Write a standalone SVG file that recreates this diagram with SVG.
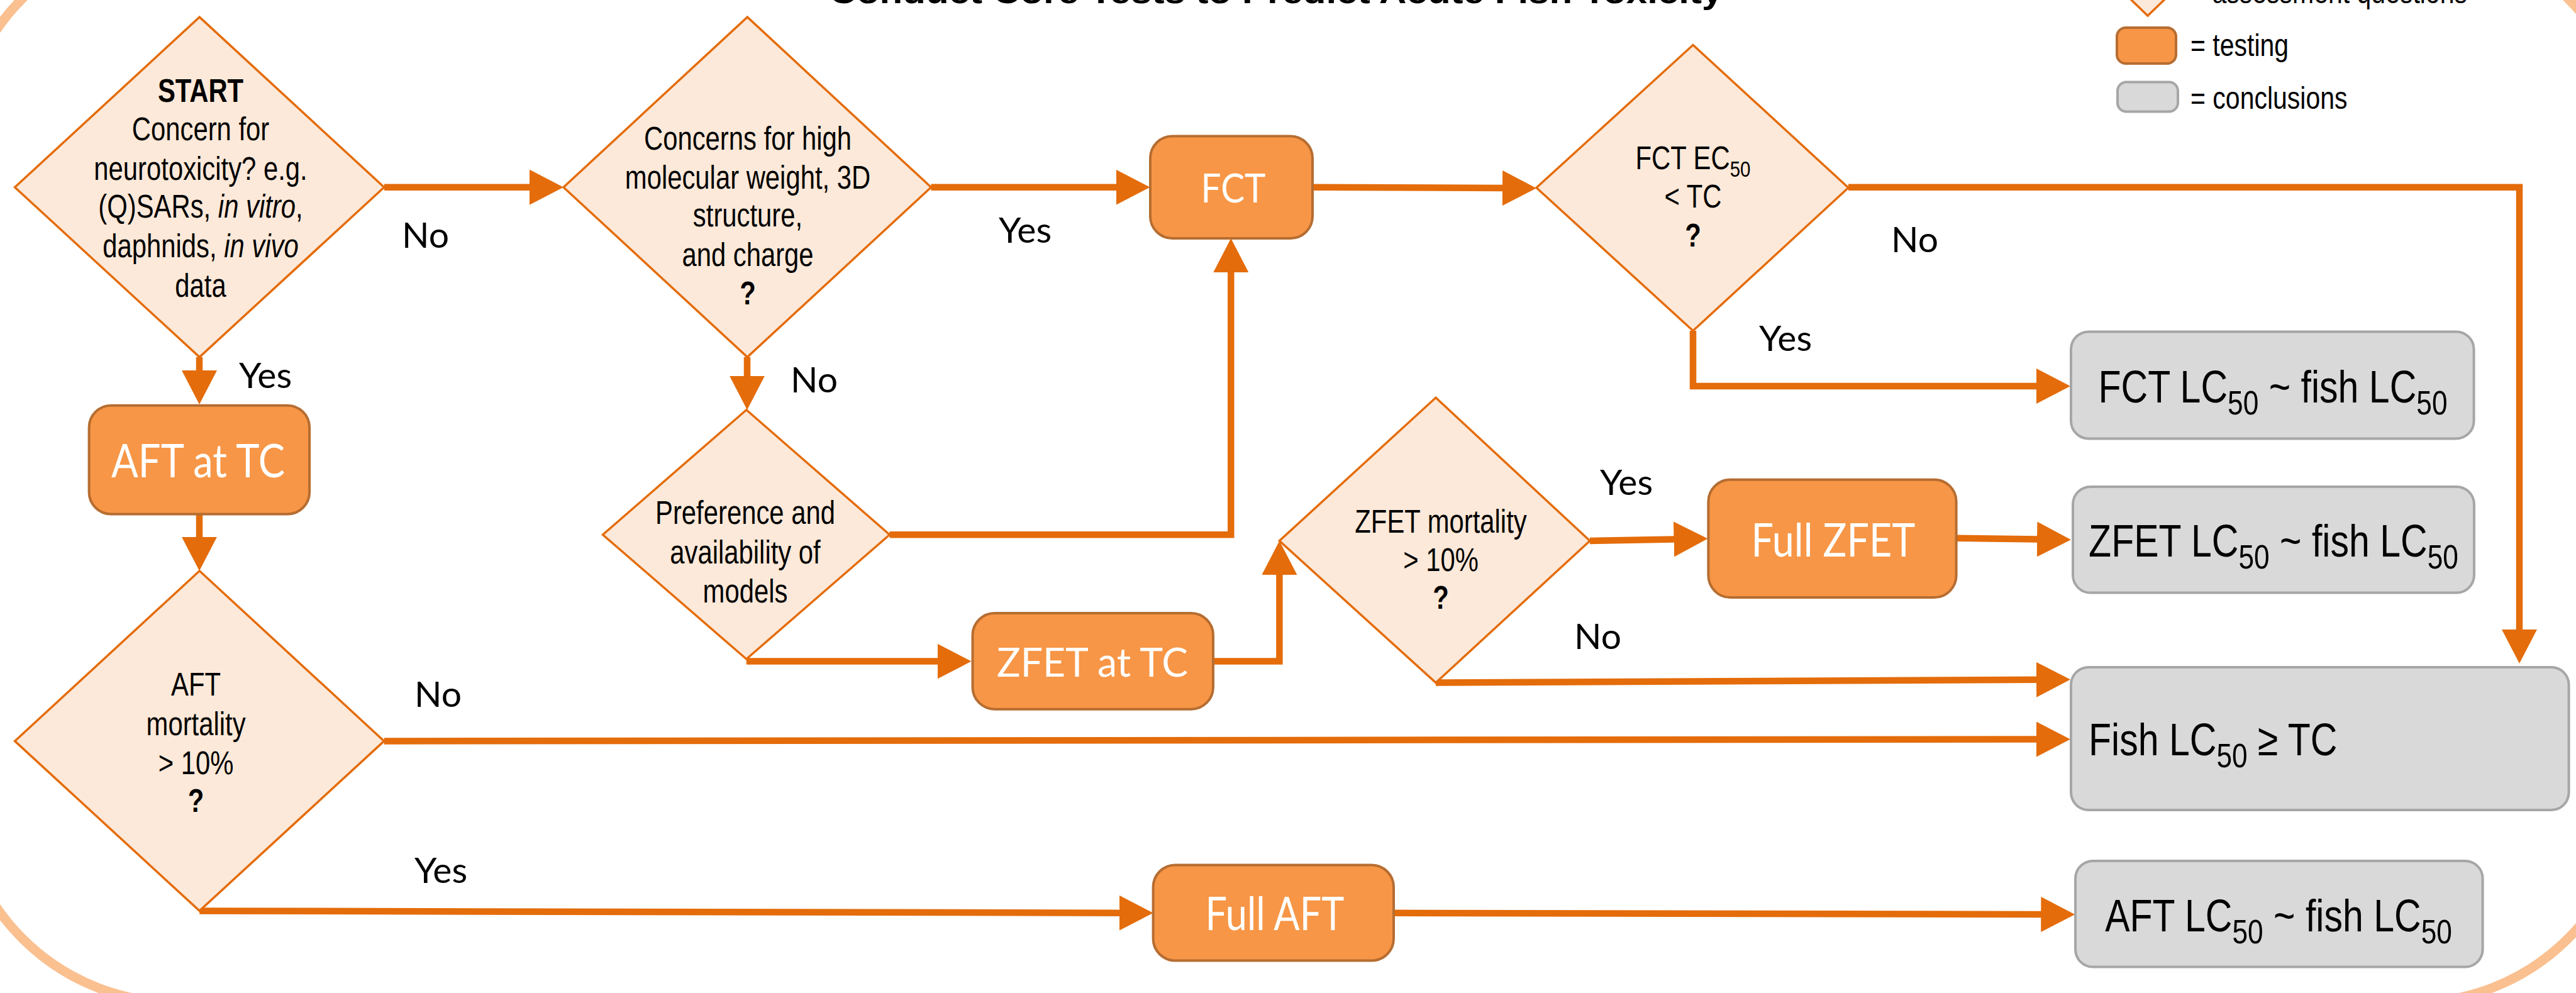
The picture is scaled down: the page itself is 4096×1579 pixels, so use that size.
<svg xmlns="http://www.w3.org/2000/svg" width="4096" height="1579" viewBox="0 0 4096 1579">
<defs>
<style>
.dia{fill:#FDE9D9;stroke:#E46C0A;stroke-width:3.5}
.test{fill:#F79646;stroke:#B66D31;stroke-width:4}
.concl{fill:#D9D9D9;stroke:#A6A6A6;stroke-width:4}
.conn{fill:none;stroke:#E46C0A;stroke-width:10.5;marker-end:url(#ah)}
.nt{font-family:"Liberation Sans",Arial,sans-serif;font-size:51px;fill:#000}
.ct{font-family:"Liberation Sans",Arial,sans-serif;font-size:72px;fill:#000}
.lg{font-family:"Liberation Sans",Arial,sans-serif;font-size:50px;fill:#000}
.mid{text-anchor:middle}
.bt{font-family:Lato,"Open Sans",sans-serif;fill:#fff;text-anchor:middle}
.lbl{font-family:Lato,"Open Sans",sans-serif;font-size:57px;fill:#000}
.b{font-weight:bold}
.i{font-style:italic}
</style>
<marker id="ah" markerUnits="userSpaceOnUse" viewBox="0 0 54 56" markerWidth="54" markerHeight="56" refX="2" refY="28" orient="auto">
<path d="M0,0 L54,28 L0,56 Z" fill="#E46C0A"/>
</marker>
</defs>
<rect width="4096" height="1579" fill="#fff"/>
<rect x="-66" y="-104" width="4251" height="1698" rx="347" fill="none" stroke="#FAC090" stroke-width="15"/>

<text class="nt b mid" x="2029" y="5" font-size="73" textLength="1421" lengthAdjust="spacingAndGlyphs">Conduct Core Tests to Predict Acute Fish Toxicity</text>

<g id="legend">
<polygon class="dia" points="3415,-85 3472,-30 3415,25 3358,-30"/>
<rect class="test" x="3366" y="44" width="94" height="57" rx="14"/>
<rect class="concl" x="3367" y="130.5" width="96" height="47" rx="14"/>
<g transform="translate(3483 0) scale(0.82 1)">
<text class="lg" x="42" y="5">assessment questions</text>
<text class="lg" x="0" y="89.5">= testing</text>
<text class="lg" x="0" y="173.5">= conclusions</text>
</g>
</g>

<g id="connectors">
<path class="conn" d="M611,297.7 H844"/>
<path class="conn" d="M1480.5,297.7 H1776.6"/>
<path class="conn" d="M2087,297.7 L2391,299"/>
<path class="conn" d="M2939,297.7 H4006 V1003"/>
<path class="conn" d="M2692,526 V614 H3240"/>
<path class="conn" d="M317,567.8 V591"/>
<path class="conn" d="M1188,567.8 V599.7"/>
<path class="conn" d="M317,817.5 V855.8"/>
<path class="conn" d="M1414.5,850.2 H1957.3 V431"/>
<path class="conn" d="M1186.8,1051.6 H1492.5"/>
<path class="conn" d="M1929,1051.6 H2034.4 V912"/>
<path class="conn" d="M2528,860 L2663.5,857.4"/>
<path class="conn" d="M3110.6,855.7 L3241,857.6"/>
<path class="conn" d="M2283,1085.6 L3240,1080.8"/>
<path class="conn" d="M610.7,1178.4 L3240,1175.6"/>
<path class="conn" d="M317.2,1448.4 L1781.6,1451.7"/>
<path class="conn" d="M2216,1451.8 L3247.3,1454"/>
<text class="lbl" x="639" y="394">No</text>
<text class="lbl" x="1588" y="386">Yes</text>
<text class="lbl" x="3007" y="400.5">No</text>
<text class="lbl" x="2797" y="558">Yes</text>
<text class="lbl" x="380" y="617">Yes</text>
<text class="lbl" x="1257" y="624">No</text>
<text class="lbl" x="2544" y="787">Yes</text>
<text class="lbl" x="2503" y="1032">No</text>
<text class="lbl" x="659" y="1124">No</text>
<text class="lbl" x="659" y="1404">Yes</text>
</g>

<g id="start">
<polygon class="dia" points="317.2,27.1 610.8,297.8 317.2,567.8 23.6,297.8"/>
<g transform="translate(319 0) scale(0.82 1)">
<text class="nt b mid" x="0" y="162.4">START</text>
<text class="nt mid" x="0" y="222.8">Concern for</text>
<text class="nt mid" x="0" y="285.9">neurotoxicity? e.g.</text>
<text class="nt mid" x="0" y="346.3">(Q)SARs, <tspan class="i">in vitro</tspan>,</text>
<text class="nt mid" x="0" y="409.5">daphnids, <tspan class="i">in vivo</tspan></text>
<text class="nt mid" x="0" y="471.9">data</text>
</g>
</g>

<g id="concerns">
<polygon class="dia" points="1188.3,27.1 1480.5,297.8 1188.3,567.8 896,297.8"/>
<g transform="translate(1189 0) scale(0.82 1)">
<text class="nt mid" x="0" y="238">Concerns for high</text>
<text class="nt mid" x="0" y="299.8">molecular weight, 3D</text>
<text class="nt mid" x="0" y="360.2">structure,</text>
<text class="nt mid" x="0" y="423.4">and charge</text>
<text class="nt b mid" x="0" y="483.7">?</text>
</g>
</g>

<g id="fct">
<rect class="test" x="1829" y="216.5" width="258" height="162.5" rx="35"/>
<text class="bt" x="1961" y="322" font-size="63" textLength="103" lengthAdjust="spacingAndGlyphs">FCT</text>
</g>

<g id="fct-ec50">
<polygon class="dia" points="2692,71.5 2939,298.5 2692,526 2443,298.5"/>
<g transform="translate(2692 0) scale(0.82 1)">
<text class="nt mid" x="0" y="268.6">FCT EC<tspan font-size="36" dy="12">50</tspan></text>
<text class="nt mid" x="0" y="330.4">&lt; TC</text>
<text class="nt b mid" x="0" y="392.1">?</text>
</g>
</g>

<g id="aft-at-tc">
<rect class="test" x="141.6" y="644.7" width="350.5" height="172.8" rx="35"/>
<text class="bt" x="315" y="759" font-size="74" textLength="276" lengthAdjust="spacingAndGlyphs">AFT at TC</text>
</g>

<g id="preference">
<polygon class="dia" points="1186.8,651.7 1414.5,850.2 1186.8,1048 958.5,850.2"/>
<g transform="translate(1185 0) scale(0.82 1)">
<text class="nt mid" x="0" y="833">Preference and</text>
<text class="nt mid" x="0" y="896">availability of</text>
<text class="nt mid" x="0" y="958">models</text>
</g>
</g>

<g id="zfet-at-tc">
<rect class="test" x="1546.5" y="975" width="382.5" height="152.7" rx="35"/>
<text class="bt" x="1737" y="1076" font-size="63" textLength="304" lengthAdjust="spacingAndGlyphs">ZFET at TC</text>
</g>

<g id="zfet-mortality">
<polygon class="dia" points="2283,632.3 2528,860 2283,1085.6 2034.4,860"/>
<g transform="translate(2291 0) scale(0.82 1)">
<text class="nt mid" x="0" y="846.8">ZFET mortality</text>
<text class="nt mid" x="0" y="907.9">&gt; 10%</text>
<text class="nt b mid" x="0" y="968.3">?</text>
</g>
</g>

<g id="full-zfet">
<rect class="test" x="2716.4" y="762.7" width="394.2" height="187.4" rx="35"/>
<text class="bt" x="2915" y="885" font-size="74" textLength="261" lengthAdjust="spacingAndGlyphs">Full ZFET</text>
</g>

<g id="aft-mortality">
<polygon class="dia" points="317.2,907.8 610.7,1178.4 317.2,1448.4 23.6,1178.4"/>
<g transform="translate(311.6 0) scale(0.82 1)">
<text class="nt mid" x="0" y="1105.6">AFT</text>
<text class="nt mid" x="0" y="1168.7">mortality</text>
<text class="nt mid" x="0" y="1231.2">&gt; 10%</text>
<text class="nt b mid" x="0" y="1290.9">?</text>
</g>
</g>

<g id="full-aft">
<rect class="test" x="1833.6" y="1375.5" width="382.4" height="152" rx="35"/>
<text class="bt" x="2027" y="1479" font-size="74" textLength="221" lengthAdjust="spacingAndGlyphs">Full AFT</text>
</g>

<g id="fct-lc50">
<rect class="concl" x="3293" y="527.4" width="640.6" height="170" rx="28"/>
<g transform="translate(3614 0) scale(0.82 1)">
<text class="ct mid" x="0" y="640">FCT LC<tspan font-size="54" dy="19">50</tspan><tspan dy="-19"> ~ fish LC</tspan><tspan font-size="54" dy="19">50</tspan></text>
</g>
</g>

<g id="zfet-lc50">
<rect class="concl" x="3296" y="774" width="638" height="168.5" rx="28"/>
<g transform="translate(3615 0) scale(0.82 1)">
<text class="ct mid" x="0" y="885">ZFET LC<tspan font-size="54" dy="19">50</tspan><tspan dy="-19"> ~ fish LC</tspan><tspan font-size="54" dy="19">50</tspan></text>
</g>
</g>

<g id="fish-lc50">
<rect class="concl" x="3293" y="1061" width="791.6" height="227" rx="28"/>
<g transform="translate(3321 0) scale(0.82 1)">
<text class="ct" x="0" y="1201.5">Fish LC<tspan font-size="54" dy="19">50</tspan><tspan dy="-19"> ≥ TC</tspan></text>
</g>
</g>

<g id="aft-lc50">
<rect class="concl" x="3300" y="1369" width="647.6" height="168.6" rx="28"/>
<g transform="translate(3623 0) scale(0.82 1)">
<text class="ct mid" x="0" y="1481">AFT LC<tspan font-size="54" dy="19">50</tspan><tspan dy="-19"> ~ fish LC</tspan><tspan font-size="54" dy="19">50</tspan></text>
</g>
</g>
</svg>
